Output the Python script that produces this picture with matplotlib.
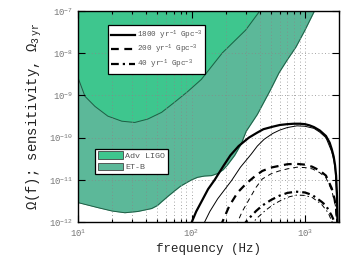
import matplotlib
matplotlib.use("Agg")
import matplotlib.pyplot as plt
import numpy as np
from matplotlib.lines import Line2D
from matplotlib.patches import Patch

plt.rcParams["font.family"] = ["Liberation Mono", "DejaVu Sans Mono"]
plt.rcParams["mathtext.fontset"] = "custom"
plt.rcParams["mathtext.rm"] = "Liberation Mono"
plt.rcParams["mathtext.it"] = "Liberation Mono"
plt.rcParams["mathtext.bf"] = "Liberation Mono"

# detector sensitivity curves (log10 Omega)
ligo_f = [10, 11.5, 14.1, 18.3, 24.3, 31.6, 41.1, 54.5, 70.9, 92.3, 122, 187, 300, 394, 420]
ligo_log = [-8.58, -9.02, -9.26, -9.49, -9.61, -9.64, -9.56, -9.40, -9.16, -8.91, -8.62, -7.99, -7.45, -7.02, -6.9]

et_f = [10, 15, 20, 25.8, 33.6, 44.5, 50, 54.5, 62, 71, 80, 90, 100, 113, 130, 150, 170, 190,
        207, 240, 274, 303, 380, 500, 591, 700, 833, 1000, 1200, 1300]
et_log = [-11.54, -11.66, -11.74, -11.78, -11.75, -11.68, -11.61, -11.52, -11.39, -11.26, -11.15,
          -11.07, -11.0, -10.94, -10.91, -10.9, -10.85, -10.76, -10.65, -10.42, -10.15, -9.85,
          -9.45, -8.85, -8.46, -8.15, -7.85, -7.45, -7.02, -6.85]

# background spectra, thick and thin versions per rate
rates = ["1800", "200", "40"]

solid_thick_f = [97, 110, 125, 140, 160, 190, 220, 260, 320, 380, 430, 520, 600, 700, 800, 900,
                 1000, 1100, 1200, 1350, 1530, 1650, 1720, 1790, 1840, 1880, 1910, 1930, 1940]
solid_thick_log = [-12.1, -11.75, -11.47, -11.22, -11.0, -10.68, -10.42, -10.2, -10.0, -9.88, -9.8,
                   -9.74, -9.7, -9.68, -9.67, -9.67, -9.68, -9.71, -9.75, -9.83, -9.96, -10.12,
                   -10.27, -10.45, -10.65, -10.9, -11.3, -11.8, -12.1]
solid_thin_f = [125, 145, 170, 200, 225, 270, 336, 380, 436, 520, 600, 700, 850, 1000, 1200, 1350,
                1530, 1720, 1800, 1850, 1900, 1925]
solid_thin_log = [-12.1, -11.75, -11.45, -11.2, -11.02, -10.7, -10.39, -10.2, -10.04, -9.9, -9.82,
                  -9.76, -9.72, -9.73, -9.78, -9.87, -10.0, -10.33, -10.55, -10.8, -11.4, -12.1]

dash_thick_f = [180, 216, 255, 303, 360, 420, 500, 591, 700, 833, 1000, 1160, 1350, 1530, 1720,
                1820, 1880, 1930]
dash_thick_log = [-12.1, -11.61, -11.3, -11.09, -10.92, -10.79, -10.71, -10.67, -10.63, -10.62,
                  -10.64, -10.69, -10.78, -10.9, -11.2, -11.45, -11.68, -12.1]
dash_thin_f = [245, 280, 324, 370, 420, 500, 591, 700, 850, 1000, 1160, 1350, 1530, 1720, 1850, 1920]
dash_thin_log = [-12.1, -11.75, -11.45, -11.18, -10.98, -10.86, -10.79, -10.74, -10.7, -10.71,
                 -10.74, -10.83, -10.95, -11.25, -11.6, -12.1]

dd_thick_f = [280, 330, 370, 420, 500, 591, 700, 833, 1000, 1160, 1400, 1530, 1720, 1820, 1880]
dd_thick_log = [-12.1, -11.88, -11.74, -11.61, -11.48, -11.38, -11.31, -11.28, -11.3, -11.36,
                -11.52, -11.61, -11.85, -12.0, -12.1]
dd_thin_f = [325, 380, 450, 530, 620, 730, 850, 1000, 1160, 1400, 1600, 1800]
dd_thin_log = [-12.1, -11.9, -11.72, -11.58, -11.48, -11.4, -11.36, -11.37, -11.42, -11.58,
               -11.78, -12.1]

ligo_color = "#3ec68e"
et_color = "#5cb899"
edge_color = "#1f5c44"

fig = plt.figure(figsize=(3.5, 2.64), dpi=100)
ax = fig.add_axes([0.223, 0.159, 0.746, 0.799])

ax.fill_between(et_f, 10.0 ** np.array(et_log), 1e-6, color=et_color, lw=0, zorder=1)
ax.plot(et_f, 10.0 ** np.array(et_log), color=edge_color, lw=0.7, zorder=1.1)
ax.fill_between(ligo_f, 10.0 ** np.array(ligo_log), 1e-6, color=ligo_color, lw=0, zorder=1.2)
ax.plot(ligo_f, 10.0 ** np.array(ligo_log), color=edge_color, lw=0.7, zorder=1.3)

ax.plot(solid_thick_f, 10.0 ** np.array(solid_thick_log), color="black", lw=1.6, ls="-", zorder=3)
ax.plot(solid_thin_f, 10.0 ** np.array(solid_thin_log), color="black", lw=0.7, ls="-", zorder=3)
ax.plot(dash_thick_f, 10.0 ** np.array(dash_thick_log), color="black", lw=1.6, ls=(0, (3.5, 2.5)), zorder=3)
ax.plot(dash_thin_f, 10.0 ** np.array(dash_thin_log), color="black", lw=0.7, ls=(0, (5, 4)), zorder=3)
ax.plot(dd_thick_f, 10.0 ** np.array(dd_thick_log), color="black", lw=1.6, ls=(0, (3.5, 1.8, 1, 1.8)), zorder=3)
ax.plot(dd_thin_f, 10.0 ** np.array(dd_thin_log), color="black", lw=0.7, ls=(0, (5, 3, 1.5, 3)), zorder=3)

ax.set_xscale("log")
ax.set_yscale("log")
ax.set_xlim(10, 2000)
ax.set_ylim(1e-12, 1e-7)

ax.yaxis.set_minor_locator(matplotlib.ticker.NullLocator())
ax.tick_params(which="both", direction="in", top=True, right=True, labelsize=6.5,
               labelcolor="#777777", width=0.8)
ax.tick_params(which="major", length=5)
ax.tick_params(which="minor", length=2.5)
ax.grid(which="major", axis="both", color="#888888", ls=(0, (1, 3)), lw=0.6)
ax.grid(which="minor", axis="x", color="#888888", ls=(0, (1, 3)), lw=0.6)
ax.set_axisbelow(False)
for sp in ax.spines.values():
    sp.set_linewidth(1.0)
    sp.set_zorder(5)

ax.set_xlabel("frequency (Hz)", fontsize=9, color="#222222", labelpad=3)
ax.set_ylabel(r"$\Omega$(f); sensitivity, $\Omega_{3\ \mathrm{yr}}$", fontsize=10, color="#222222")

handles = [
    Line2D([], [], color="black", lw=1.6, ls="-"),
    Line2D([], [], color="black", lw=1.6, ls=(0, (3.5, 2.5))),
    Line2D([], [], color="black", lw=1.6, ls=(0, (3.5, 1.8, 1, 1.8))),
]
labels = [r + r" yr$^{-1}$ Gpc$^{-3}$" for r in rates]
leg1 = ax.legend(handles, labels, loc="upper left", bbox_to_anchor=(0.1, 0.95), fontsize=5.5,
                 frameon=True, fancybox=False, edgecolor="black", framealpha=1,
                 handlelength=3.2, handletextpad=0.2, borderpad=0.4, labelspacing=0.15,
                 labelcolor="#555555")
leg1.get_frame().set_linewidth(0.9)
leg1.set_zorder(6)
ax.add_artist(leg1)

fill_handles = [
    Patch(facecolor=ligo_color, edgecolor="#444444", lw=0.6),
    Patch(facecolor=et_color, edgecolor="#444444", lw=0.6),
]
leg2 = ax.legend(fill_handles, ["Adv LIGO", "ET-B"], loc="upper left", bbox_to_anchor=(0.05, 0.366),
                 fontsize=6, frameon=True, fancybox=False, edgecolor="black", framealpha=1,
                 handlelength=3.0, handleheight=1.0, handletextpad=0.3, borderpad=0.3,
                 labelspacing=0.3, labelcolor="#555555")
leg2.get_frame().set_linewidth(0.9)
leg2.set_zorder(6)

fig.savefig("out.png", dpi=100)
